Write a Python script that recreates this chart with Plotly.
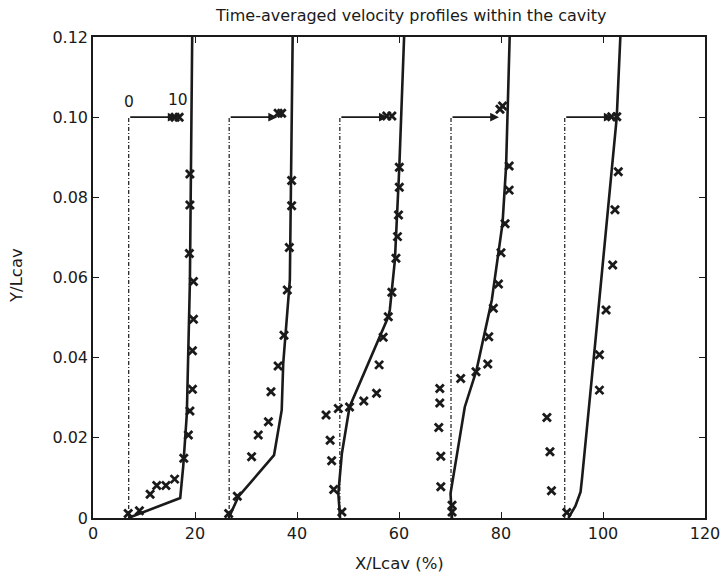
import plotly.graph_objects as go

# ---------------- data ----------------
base_x = [7.0, 26.7, 48.4, 70.2, 92.5]       # zero-velocity reference of each profile
arrow_len = 9.4                                # length of the 0->10 reference arrow
arrow_y = 0.10

sim1_x = [6.9, 17.1, 17.7, 18.4, 19.0, 19.3, 19.45]
sim1_y = [0.0, 0.005, 0.013, 0.026, 0.059, 0.09, 0.12]
sim2_x = [26.6, 28.5, 35.5, 37.0, 37.3, 38.6, 39.15]
sim2_y = [0.0, 0.0053, 0.0157, 0.0269, 0.0386, 0.0594, 0.12]
sim3_x = [48.45, 48.1, 48.8, 50.3, 57.9, 58.2, 59.2, 60.06, 61.0]
sim3_y = [0.0, 0.0061, 0.0161, 0.0277, 0.0502, 0.0519, 0.0644, 0.0875, 0.12]
sim4_x = [70.4, 70.1, 72.9, 75.2, 78.2, 80.3, 81.0, 81.7]
sim4_y = [0.0, 0.0061, 0.0277, 0.0369, 0.0544, 0.0735, 0.0878, 0.12]
sim5_x = [93.2, 94.6, 95.6, 95.9, 98.4, 102.7, 103.4]
sim5_y = [0.0, 0.003, 0.0065, 0.010, 0.0427, 0.10, 0.12]

exp1_x = [6.9, 9.1, 11.2, 12.5, 14.3, 16.0, 17.8, 18.7, 19.0, 19.5, 19.5, 19.7, 19.7, 18.9, 19.0, 19.0, 16.1, 16.9]
exp1_y = [0.0011, 0.0018, 0.0059, 0.0081, 0.0081, 0.0097, 0.0149, 0.0207, 0.0267, 0.0321, 0.0417, 0.0496, 0.059, 0.066, 0.0781, 0.0858, 0.100, 0.100]
exp2_x = [26.6, 28.3, 31.1, 32.4, 34.4, 34.9, 36.3, 37.45, 38.1, 38.5, 38.95, 38.95, 36.3, 37.0]
exp2_y = [0.0011, 0.0054, 0.0153, 0.0207, 0.0240, 0.0315, 0.0379, 0.0456, 0.0569, 0.0675, 0.0779, 0.0842, 0.101, 0.101]
exp3_x = [48.8, 47.2, 46.8, 46.5, 45.7, 48.1, 50.3, 53.1, 55.6, 56.1, 56.9, 57.9, 58.6, 59.4, 59.7, 59.9, 60.06, 60.06, 57.6, 58.6]
exp3_y = [0.0015, 0.0071, 0.0143, 0.0194, 0.0257, 0.0273, 0.0277, 0.0292, 0.0311, 0.0382, 0.0451, 0.0502, 0.0563, 0.0648, 0.0702, 0.0756, 0.0825, 0.0875, 0.1003, 0.1003]
exp4_x = [70.4, 70.4, 68.2, 68.2, 67.8, 68.0, 68.0, 72.1, 75.1, 77.4, 77.6, 78.5, 79.5, 80.0, 80.8, 81.6, 81.6, 79.8, 80.3]
exp4_y = [0.0015, 0.0032, 0.0078, 0.0154, 0.0226, 0.0287, 0.0323, 0.0348, 0.0365, 0.0384, 0.0452, 0.0523, 0.0584, 0.0662, 0.0734, 0.0818, 0.0878, 0.102, 0.1028]
exp5_x = [92.9, 89.9, 89.6, 89.0, 99.3, 99.3, 100.6, 101.9, 102.35, 103.0, 101.7, 102.7]
exp5_y = [0.0014, 0.0068, 0.0165, 0.0251, 0.0319, 0.0407, 0.0519, 0.0631, 0.0769, 0.0864, 0.1001, 0.1001]

x_ticks = [0, 20, 40, 60, 80, 100, 120]
y_ticks = [0, 0.02, 0.04, 0.06, 0.08, 0.10, 0.12]
y_tick_text = ["0", "0.02", "0.04", "0.06", "0.08", "0.10", "0.12"]
scale_labels = ["0", "10"]

sims = [(sim1_x, sim1_y), (sim2_x, sim2_y), (sim3_x, sim3_y), (sim4_x, sim4_y), (sim5_x, sim5_y)]
exps = [(exp1_x, exp1_y), (exp2_x, exp2_y), (exp3_x, exp3_y), (exp4_x, exp4_y), (exp5_x, exp5_y)]

FONT = "DejaVu Sans"
INK = "#1a1a1a"

fig = go.Figure()

for bx in base_x:
    fig.add_trace(go.Scatter(x=[bx, bx], y=[0, arrow_y], mode="lines",
                             line=dict(color=INK, width=1.2, dash="4px,2px,1px,2px"),
                             showlegend=False, hoverinfo="skip"))

for sx, sy in sims:
    fig.add_trace(go.Scatter(x=sx, y=sy, mode="lines",
                             line=dict(color=INK, width=2.6),
                             showlegend=False, cliponaxis=True))

for ex, ey in exps:
    fig.add_trace(go.Scatter(x=ex, y=ey, mode="markers",
                             marker=dict(symbol="x-thin", size=8, color=INK,
                                         line=dict(color=INK, width=2.8)),
                             showlegend=False))

annotations = []
for bx in base_x:
    annotations.append(dict(x=bx + arrow_len, y=arrow_y, ax=bx, ay=arrow_y,
                            xref="x", yref="y", axref="x", ayref="y",
                            showarrow=True, arrowhead=2, arrowsize=1.1,
                            arrowwidth=1.6, arrowcolor=INK, text=""))

annotations.append(dict(x=base_x[0], y=0.1037, xref="x", yref="y", text=scale_labels[0],
                        showarrow=False, xanchor="center", yanchor="middle",
                        font=dict(family=FONT, size=15.5, color=INK)))
annotations.append(dict(x=base_x[0] + arrow_len + 0.3, y=0.1042, xref="x", yref="y", text=scale_labels[1],
                        showarrow=False, xanchor="center", yanchor="middle",
                        font=dict(family=FONT, size=15.5, color=INK)))

# axis titles placed as annotations for exact positioning
annotations.append(dict(x=0.5, y=-0.094, xref="paper", yref="paper", text="X/Lcav (%)",
                        showarrow=False, xanchor="center", yanchor="middle",
                        font=dict(family=FONT, size=16.5, color=INK)))
annotations.append(dict(x=-0.126, y=0.505, xref="paper", yref="paper", text="Y/Lcav",
                        showarrow=False, xanchor="center", yanchor="middle", textangle=-90,
                        font=dict(family=FONT, size=16.5, color=INK)))

fig.update_layout(
    width=721, height=580,
    margin=dict(l=93, r=16, t=37, b=62, autoexpand=False),
    paper_bgcolor="white", plot_bgcolor="white",
    font=dict(family=FONT, size=16, color=INK),
    title=dict(text="Time-averaged velocity profiles within the cavity",
               x=0.52, xref="paper", xanchor="center", y=1 - 15 / 580, yref="container",
               yanchor="middle",
               font=dict(family=FONT, size=16, color=INK)),
    annotations=annotations,
    showlegend=False,
)

fig.update_xaxes(range=[0, 120], tickvals=x_ticks, ticks="inside", ticklen=6,
                 tickwidth=1.3, tickcolor=INK, showline=True, linecolor=INK,
                 linewidth=1.6, mirror="allticks", showgrid=False, zeroline=False,
                 automargin=False,
                 tickfont=dict(family=FONT, size=16, color=INK))
fig.update_yaxes(range=[0, 0.12], tickvals=y_ticks, ticktext=y_tick_text, ticks="inside",
                 ticklen=6, tickwidth=1.3, tickcolor=INK, showline=True, linecolor=INK,
                 linewidth=1.6, mirror="allticks", showgrid=False, zeroline=False,
                 automargin=False,
                 tickfont=dict(family=FONT, size=16, color=INK))

# remove the browser's default 8px body margin so the figure fills the window
fig.write_html("out.html",
               config={"displayModeBar": False},
               post_script="document.body.style.margin='0';document.body.style.overflow='hidden';")
